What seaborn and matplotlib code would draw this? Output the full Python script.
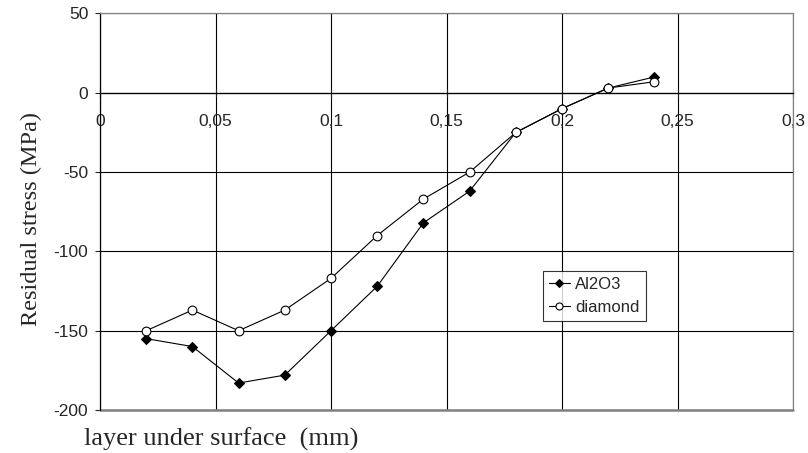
import matplotlib
matplotlib.use("Agg")
import matplotlib.pyplot as plt
import seaborn as sns
import pandas as pd

# Depth below the surface (mm)
depth = [0.02, 0.04, 0.06, 0.08, 0.10, 0.12, 0.14, 0.16, 0.18, 0.20, 0.22, 0.24]
# Residual stress (MPa) per tool
stress_al2o3 = [-155, -160, -183, -178, -150, -122, -82, -62, -25, -10, 3, 10]
stress_diamond = [-150, -137, -150, -137, -117, -90, -67, -50, -25, -10, 3, 7]

x_ticks = [0, 0.05, 0.1, 0.15, 0.2, 0.25, 0.3]
x_tick_labels = ["0", "0,05", "0,1", "0,15", "0,2", "0,25", "0,3"]
y_ticks = [-200, -150, -100, -50, 0, 50]

df = pd.concat([
    pd.DataFrame({"depth": depth, "stress": stress_al2o3, "tool": "Al2O3"}),
    pd.DataFrame({"depth": depth, "stress": stress_diamond, "tool": "diamond"}),
])

sns.set_style("white")
plt.rcParams["font.family"] = ["Liberation Sans", "DejaVu Sans"]
plt.rcParams["axes.unicode_minus"] = False

fig = plt.figure(figsize=(8.08, 4.53), dpi=100)
ax = fig.add_axes([100 / 808, 1 - 410 / 453, 693 / 808, 396.5 / 453])

sns.lineplot(data=df[df.tool == "Al2O3"], x="depth", y="stress", ax=ax,
             color="black", lw=0.8, marker="D", markersize=4.6,
             markerfacecolor="black", markeredgecolor="black",
             label="Al2O3", zorder=4)
sns.lineplot(data=df[df.tool == "diamond"], x="depth", y="stress", ax=ax,
             color="black", lw=0.8, marker="o", markersize=6.3,
             markerfacecolor="white", markeredgecolor="black",
             markeredgewidth=0.8, label="diamond", zorder=5)

ax.set_xlim(0, 0.3)
ax.set_ylim(-200, 50)
ax.set_xticks(x_ticks)
ax.set_xticklabels(x_tick_labels)
ax.set_yticks(y_ticks)

ax.grid(True, color="black", lw=0.8)
ax.set_axisbelow(True)

# x axis runs through zero stress
ax.spines["bottom"].set_position(("data", 0))
ax.spines["bottom"].set_color("black")
ax.spines["bottom"].set_linewidth(0.9)
ax.spines["left"].set_color("black")
ax.spines["left"].set_linewidth(0.9)
for s in ("top", "right"):
    ax.spines[s].set_color("#808080")
    ax.spines[s].set_linewidth(0.9)
ax.axhline(-200, color="#808080", lw=1.8, zorder=1, clip_on=False)

ax.tick_params(axis="y", direction="out", length=3.5, width=0.8, pad=5,
               labelsize=12.5, left=True)
ax.tick_params(axis="x", direction="inout", length=6, width=0.8, pad=12,
               labelsize=12.5, bottom=True)

ax.set_xlabel("")
ax.set_ylabel("")
fig.text(31 / 808, 1 - 219 / 453, "Residual stress (MPa)",
         family=["Liberation Serif"], fontsize=17.5, rotation=90,
         ha="center", va="center")
fig.text(84 / 808, 1 - 439 / 453, "layer under surface  (mm)",
         family=["Liberation Serif"], fontsize=19, ha="left", va="center")

leg = ax.legend(loc="upper left", bbox_to_anchor=(0.639, 0.351),
                borderaxespad=0, frameon=True, fancybox=False,
                fontsize=12, handlelength=1.3, handletextpad=0.3,
                borderpad=0.35, labelspacing=0.5, markerscale=0.8)
leg.get_frame().set_edgecolor("black")
leg.get_frame().set_linewidth(0.8)

fig.savefig("out.png", dpi=100)
